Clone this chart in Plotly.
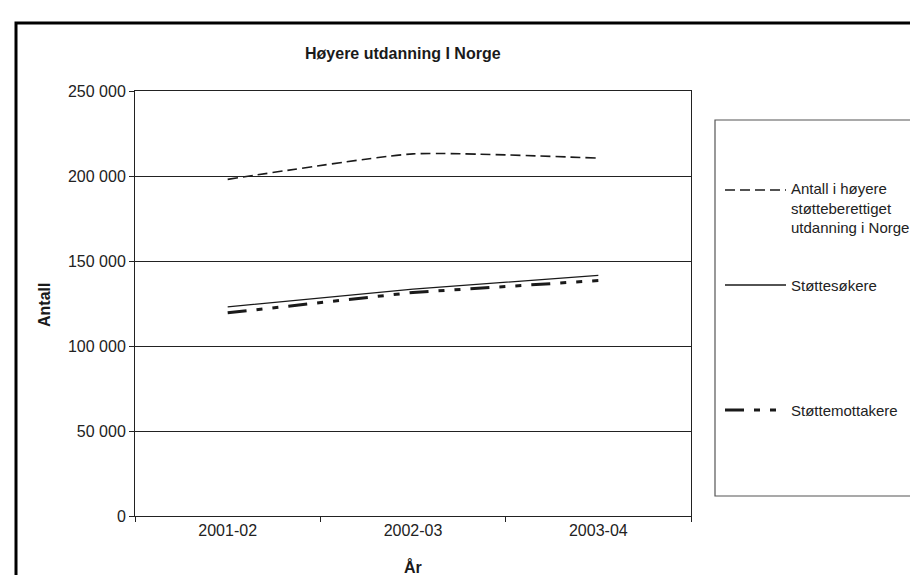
import plotly.graph_objects as go

years = ["2001-02", "2002-03", "2003-04"]
antall_hoyere = [198000, 213000, 210500]
stottesokere = [123000, 133500, 141500]
stottemottakere = [119500, 131500, 138500]

series_names = ["Antall i høyere<br>støtteberettiget<br>utdanning i Norge", "Støttesøkere", "Støttemottakere"]
y_ticks = [0, 50000, 100000, 150000, 200000, 250000]

W, H = 918, 575
L, R, T, B = 127, 683, 83, 508  # plot area pixels


def px(x):
    return (x - L) / (R - L)


def py(y):
    return (B - y) / (B - T)


FONT = "Arial, Liberation Sans, sans-serif"
INK = "#1a1a1a"

fig = go.Figure()
styles = [
    dict(color=INK, width=1.6, dash="10px,5px", shape="spline"),
    dict(color=INK, width=1.3, dash="solid", shape="linear"),
    dict(color=INK, width=3, dash="19px,10px,6px,10px,6px,10px", shape="linear"),
]
for name, vals, st in zip(series_names, [antall_hoyere, stottesokere, stottemottakere], styles):
    fig.add_trace(go.Scatter(
        x=years, y=vals, mode="lines", name=name, showlegend=False,
        line=dict(color=st["color"], width=st["width"], dash=st["dash"], shape=st["shape"], smoothing=0.5),
    ))

fig.update_layout(
    width=W, height=H,
    margin=dict(l=L, r=W - R, t=T, b=H - B),
    paper_bgcolor="white", plot_bgcolor="white",
    separators=". ",
    font=dict(family=FONT, size=16, color=INK),
    xaxis=dict(
        type="category", range=[-0.5, 2.5], tickson="boundaries", ticks="outside", ticklen=5,
        tickcolor="#222", showline=True, linecolor="#222", linewidth=1, mirror=True,
        showgrid=False, tickfont=dict(size=16, color="#222"),
    ),
    yaxis=dict(
        range=[0, 250000], tickvals=y_ticks, tickformat=",d", ticks="outside", ticklen=5,
        tickcolor="#222", showline=True, linecolor="#222", linewidth=1, mirror=True,
        showgrid=True, gridcolor="#222", gridwidth=1, zeroline=False,
        tickfont=dict(size=16, color="#222"),
    ),
)

shapes = [
    # outer frame
    dict(type="rect", xref="paper", yref="paper", x0=px(8), x1=px(940), y0=py(600), y1=py(15),
         line=dict(color="black", width=3), fillcolor="rgba(0,0,0,0)", layer="above"),
    # legend box
    dict(type="rect", xref="paper", yref="paper", x0=px(707), x1=px(940), y0=py(488), y1=py(112),
         line=dict(color="#555", width=1.2), fillcolor="rgba(0,0,0,0)"),
]
leg_y = [182, 277, 402]
for st, yy in zip(styles, leg_y):
    shapes.append(dict(type="line", xref="paper", yref="paper", x0=px(717), x1=px(778), y0=py(yy), y1=py(yy),
                       line=dict(color=st["color"], width=st["width"], dash=st["dash"])))

annotations = [
    dict(text="<b>Høyere utdanning I Norge</b>", x=px(395), y=py(45), xref="paper", yref="paper",
         showarrow=False, xanchor="center", yanchor="middle", font=dict(size=16, color=INK)),
    dict(text="<b>Antall</b>", x=px(36), y=py(297), xref="paper", yref="paper", textangle=-90,
         showarrow=False, xanchor="center", yanchor="middle", font=dict(size=16, color=INK)),
    dict(text="<b>År</b>", x=px(405), y=py(559), xref="paper", yref="paper",
         showarrow=False, xanchor="center", yanchor="middle", font=dict(size=16, color=INK)),
]
leg_text_y = [200, 277, 402]
for name, yy in zip(series_names, leg_text_y):
    annotations.append(dict(text=name, x=px(781), y=py(yy), xref="paper", yref="paper", align="left",
                            showarrow=False, xanchor="left", yanchor="middle",
                            font=dict(size=15, color="#222")))

fig.update_layout(shapes=shapes, annotations=annotations)
fig.write_html("out.html")
